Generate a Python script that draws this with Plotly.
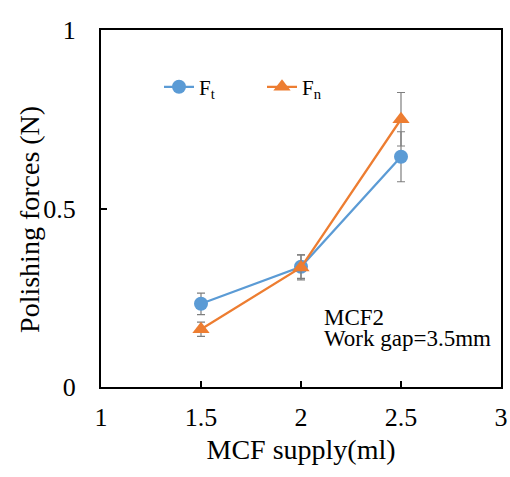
import plotly.graph_objects as go

supply = [1.5, 2.0, 2.5]
ft = [0.233, 0.337, 0.645]
ft_err = [0.03, 0.033, 0.07]
fn = [0.162, 0.335, 0.75]
fn_err = [0.02, 0.035, 0.075]

FONT = "Liberation Serif, Times New Roman, serif"
BLUE = "#5B9BD5"
ORANGE = "#ED7D31"
ERR = "#7F7F7F"

fig = go.Figure()
fig.add_trace(go.Scatter(
    x=supply, y=ft, name="F<sub>t</sub>", mode="lines+markers",
    line=dict(color=BLUE, width=2.25),
    marker=dict(symbol="circle", size=14, color=BLUE),
    error_y=dict(type="data", array=ft_err, color=ERR, thickness=1.2, width=4),
))
fig.add_trace(go.Scatter(
    x=supply, y=fn, name="F<sub>n</sub>", mode="lines+markers",
    line=dict(color=ORANGE, width=2.25),
    marker=dict(symbol="triangle-up", size=15, color=ORANGE),
    error_y=dict(type="data", array=fn_err, color=ERR, thickness=1.2, width=4),
))

fig.update_layout(
    width=510, height=477,
    margin=dict(l=101, r=9, t=30, b=90, autoexpand=False),
    paper_bgcolor="white", plot_bgcolor="white",
    font=dict(family=FONT, size=22, color="black"),
    showlegend=True,
    legend=dict(orientation="h", x=0.145, y=0.84, xanchor="left", yanchor="middle",
                bgcolor="rgba(0,0,0,0)", font=dict(family=FONT, size=21),
                itemwidth=30, entrywidth=58, traceorder="normal"),
    xaxis=dict(range=[1, 3], tickvals=[1, 1.5, 2, 2.5, 3], ticktext=["1", "1.5", "2", "2.5", "3"],
               showline=True, linecolor="black", linewidth=2, mirror=True,
               ticks="inside", ticklen=6, tickwidth=1.5, tickcolor="black",
               showgrid=False, zeroline=False, automargin=False,
               ticklabelstandoff=6,
               tickfont=dict(family=FONT, size=26),
               title=dict(text="MCF supply(ml)", font=dict(family=FONT, size=28), standoff=8)),
    yaxis=dict(range=[0, 1], tickvals=[0, 0.5, 1], ticktext=["0", "0.5", "1"],
               showline=True, linecolor="black", linewidth=2, mirror=True,
               ticks="inside", ticklen=6, tickwidth=1.5, tickcolor="black",
               showgrid=False, zeroline=False, automargin=False,
               ticklabelstandoff=18,
               tickfont=dict(family=FONT, size=26)),
)

fig.add_annotation(x=-0.1775, y=0.468, xref="paper", yref="paper", text="Polishing forces (N)",
                   textangle=-90, showarrow=False, xanchor="center", yanchor="middle",
                   font=dict(family=FONT, size=28, color="black"))
fig.add_annotation(x=2.105, y=0.196, xref="x", yref="y", text="MCF2", showarrow=False,
                   xanchor="left", yanchor="middle", font=dict(family=FONT, size=23, color="black"))
fig.add_annotation(x=2.105, y=0.135, xref="x", yref="y", text="Work gap=3.5mm", showarrow=False,
                   xanchor="left", yanchor="middle", font=dict(family=FONT, size=23, color="black"))

fig.write_html("out.html")
